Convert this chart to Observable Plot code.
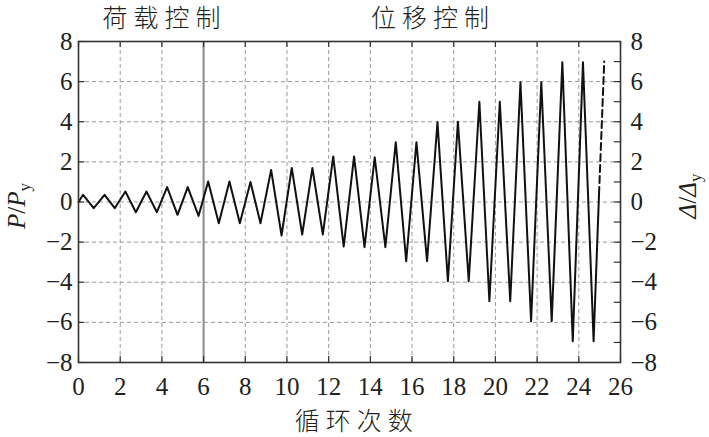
<!DOCTYPE html>
<html>
<head>
<meta charset="utf-8">
<script src="https://cdn.jsdelivr.net/npm/d3@7"></script>
<script src="https://cdn.jsdelivr.net/npm/@observablehq/plot@0.6"></script>
<style>
  html, body { margin: 0; padding: 0; background: #fff; }
  svg text, svg tspan { font-family: "Liberation Serif", "Times New Roman", serif !important; font-variant: normal !important; }
  svg .cjk-label text { font-family: "Noto Sans CJK SC", sans-serif !important; }
</style>
</head>
<body>
<div id="chart"></div>
<script>
// ---- data ----
const cycleX = [0, 0.22, 0.73, 1.25, 1.74, 2.25, 2.75, 3.26, 3.76, 4.25, 4.75, 5.24, 5.76,
  6.22, 6.73, 7.24, 7.74, 8.25, 8.73, 9.24, 9.74, 10.23, 10.73, 11.22, 11.72,
  12.22, 12.72, 13.22, 13.72, 14.21, 14.72, 15.22, 15.72, 16.21, 16.72,
  17.22, 17.72, 18.2, 18.72, 19.23, 19.71, 20.21, 20.71, 21.2, 21.71, 22.2, 22.7,
  23.21, 23.71, 24.2, 24.71, 24.97];
const cycleY = [0, 0.36, -0.31, 0.36, -0.31, 0.52, -0.51, 0.52, -0.51, 0.74, -0.64, 0.74, -0.69,
  1.02, -1.06, 1.02, -1.06, 1.0, -1.06, 1.6, -1.67, 1.7, -1.62, 1.69, -1.62,
  2.27, -2.22, 2.27, -2.25, 2.23, -2.25, 2.98, -2.95, 2.98, -2.95,
  3.98, -3.95, 4.0, -3.95, 5.0, -4.95, 5.0, -4.95, 5.97, -5.94, 5.97, -5.94,
  6.97, -6.94, 6.97, -6.94, 0.4];
const dashX = [24.97, 25.22];
const dashY = [0.4, 7.0];
const phaseBoundary = [6];
const phaseLabels = ["荷载控制", "位移控制"];
const phaseCenters = [4.12, 17.0];
const xTicks = [0, 2, 4, 6, 8, 10, 12, 14, 16, 18, 20, 22, 24, 26];
const yTicks = [-8, -6, -4, -2, 0, 2, 4, 6, 8];
const yMinorTicks = [-7, -6, -5, -4, -3, -2, -1, 0, 1, 2, 3, 4, 5, 6, 7];
const gridX = [2, 4, 6, 8, 10, 12, 14, 16, 18, 20, 22, 24];
const gridY = [-6, -4, -2, 0, 2, 4, 6];
const xLabel = "循环次数";

const solid = cycleX.map((x, i) => ({x, y: cycleY[i]}));
const dashed = dashX.map((x, i) => ({x, y: dashY[i]}));

const W = 709, H = 437, ML = 78, MR = 89, MT = 41, MB = 75;
const minus = d => d < 0 ? "\u2212" + Math.abs(d) : String(d);
const axisText = {fontSize: 25, fill: "#231f20", tickFormat: minus, label: null, tickSize: 0};

const svg = Plot.plot({
  width: W, height: H,
  marginLeft: ML, marginRight: MR, marginTop: MT, marginBottom: MB,
  x: {domain: [0, 26]},
  y: {domain: [-8, 8]},
  style: {fontSize: "25px", color: "#231f20", background: "#fff", overflow: "visible"},
  marks: [
    Plot.ruleX(gridX, {x: d => d, y1: -8, y2: 8, stroke: "#9a9a9a", strokeWidth: 1, strokeDasharray: "4,3"}),
    Plot.ruleY(gridY, {y: d => d, x1: 0, x2: 26, stroke: "#9a9a9a", strokeWidth: 1, strokeDasharray: "4,3"}),
    Plot.ruleX(phaseBoundary, {x: d => d, y1: -8, y2: 8, stroke: "#8a8a8a", strokeWidth: 2}),
    // inward ticks
    Plot.ruleX(xTicks, {x: d => d, y1: -8, y2: -7.7, stroke: "#333", strokeWidth: 1.2}),
    Plot.ruleX(xTicks, {x: d => d, y1: 8, y2: 7.7, stroke: "#333", strokeWidth: 1.2}),
    Plot.ruleY(yTicks, {y: d => d, x1: 0, x2: 0.3, stroke: "#333", strokeWidth: 1.2}),
    Plot.ruleY(yMinorTicks, {y: d => d, x1: 25.7, x2: 26, stroke: "#333", strokeWidth: 1.2}),
    Plot.line(solid, {x: "x", y: "y", stroke: "#111", strokeWidth: 2}),
    Plot.line(dashed, {x: "x", y: "y", stroke: "#111", strokeWidth: 2, strokeDasharray: "7,4"}),
    Plot.frame({stroke: "#333", strokeWidth: 1.6}),
    Plot.axisX(xTicks, {...axisText, anchor: "bottom", tickPadding: 15}),
    Plot.axisY(yTicks, {...axisText, anchor: "left", tickPadding: 6}),
    Plot.axisY(yTicks, {...axisText, anchor: "right", tickPadding: 10}),
    Plot.text(phaseLabels, {x: phaseCenters, text: d => d, frameAnchor: "top", lineAnchor: "middle", dy: -23,
      fontSize: 25, fontWeight: 300, fill: "#231f20", className: "cjk-label"}),
    Plot.text([xLabel], {x: [13.35], text: d => d, frameAnchor: "bottom", lineAnchor: "middle", dy: 59,
      fontSize: 25, fontWeight: 300, fill: "#231f20", className: "cjk-label"})
  ]
});

document.getElementById("chart").appendChild(svg);

const s = d3.select(svg);
s.selectAll(".cjk-label text").style("letter-spacing", "6px");

// axis titles with italic symbols and subscripts
function addLabel(cx, cy, sym) {
  const t = s.append("text")
    .attr("transform", `translate(${cx},${cy}) rotate(-90)`)
    .attr("text-anchor", "middle")
    .attr("font-size", 25)
    .attr("fill", "#231f20");
  t.append("tspan").attr("font-style", "italic").text(sym);
  t.append("tspan").text("/");
  t.append("tspan").attr("font-style", "italic").text(sym);
  t.append("tspan").attr("font-size", 17).attr("dy", 5).text("y");
}
addLabel(25, 206, "P");
addLabel(696, 196, "Δ");
</script>
</body>
</html>
